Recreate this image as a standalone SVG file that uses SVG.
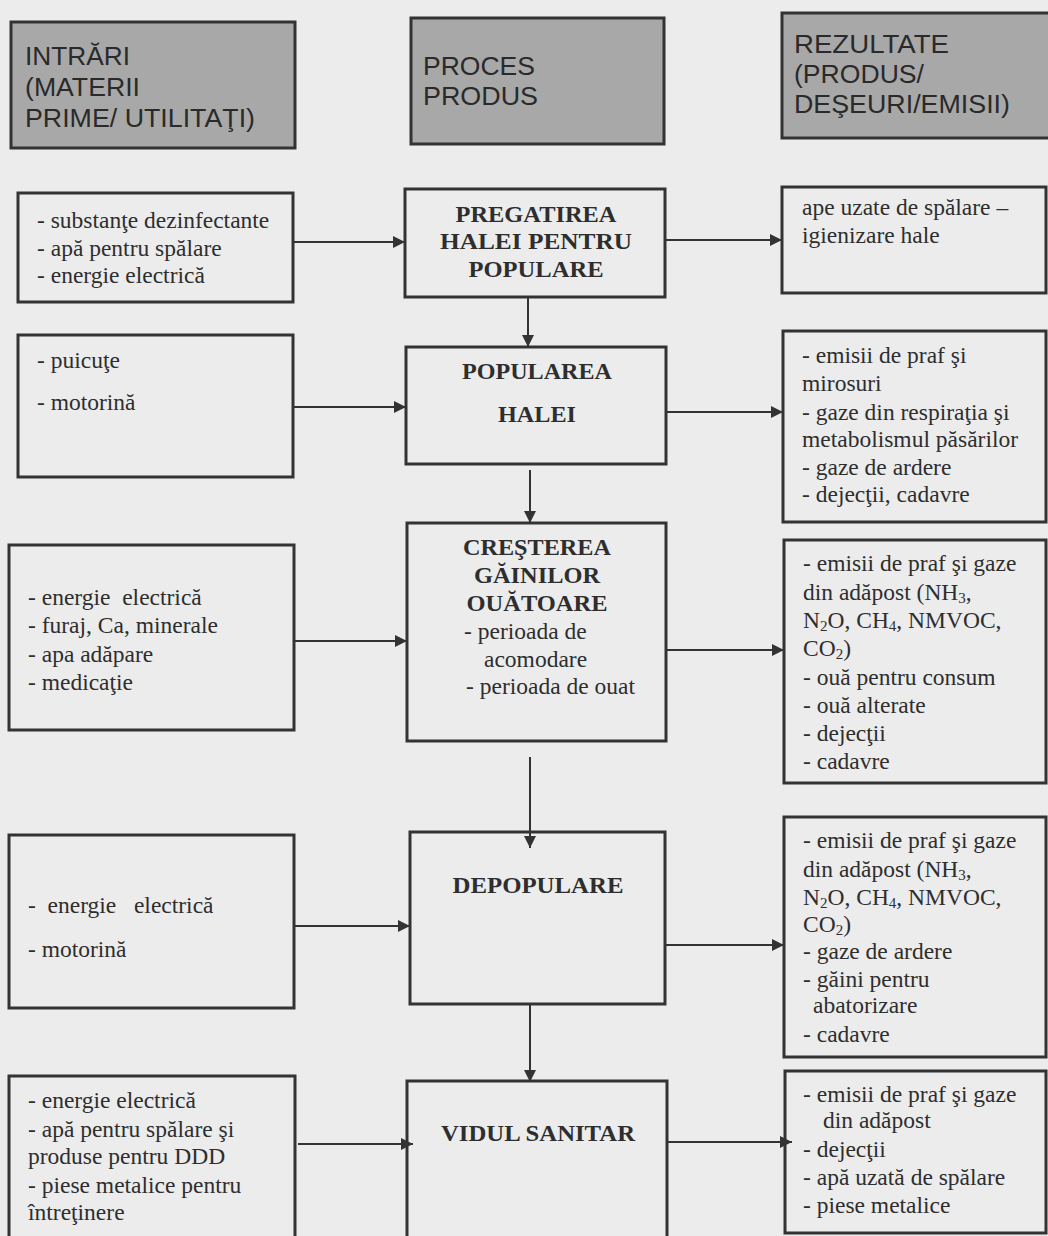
<svg xmlns="http://www.w3.org/2000/svg" width="1048" height="1236" viewBox="0 0 1048 1236">
<defs>
<style>
.hdr{fill:#a8a8a8;stroke:#333;stroke-width:3}
.box{fill:none;stroke:#333;stroke-width:3}
.ht{font-family:"Liberation Sans",Arial,sans-serif;font-size:26px;fill:#2a2a2a}
.t{font-family:"Liberation Serif","Times New Roman",serif;font-size:23.5px;fill:#2e2e2e}
.b{font-family:"Liberation Serif","Times New Roman",serif;font-size:23px;font-weight:bold;fill:#2e2e2e;text-anchor:middle}
.c{fill:none;stroke:#333;stroke-width:2;marker-end:url(#ah)}
</style>
<marker id="ah" viewBox="0 0 10 10" refX="10" refY="5" markerWidth="14" markerHeight="12" markerUnits="userSpaceOnUse" orient="auto">
<path d="M0,0 L10,5 L0,10 z" fill="#333"/>
</marker>
</defs>
<rect width="1048" height="1236" fill="#ececec"/>

<g id="hdr-intrari">
<rect class="hdr" x="11" y="22" width="284" height="126"/>
<text class="ht" x="25" y="65" textLength="105" lengthAdjust="spacingAndGlyphs">INTRĂRI</text>
<text class="ht" x="25" y="96" textLength="115" lengthAdjust="spacingAndGlyphs">(MATERII</text>
<text class="ht" x="25" y="127" textLength="230" lengthAdjust="spacingAndGlyphs">PRIME/ UTILITAŢI)</text>
</g>
<g id="hdr-proces">
<rect class="hdr" x="411" y="18" width="253" height="126"/>
<text class="ht" x="423" y="75" textLength="112" lengthAdjust="spacingAndGlyphs">PROCES</text>
<text class="ht" x="423" y="105" textLength="115" lengthAdjust="spacingAndGlyphs">PRODUS</text>
</g>
<g id="hdr-rezultate">
<rect class="hdr" x="782" y="13" width="280" height="125"/>
<text class="ht" x="794" y="53" textLength="155" lengthAdjust="spacingAndGlyphs">REZULTATE</text>
<text class="ht" x="794" y="83" textLength="130" lengthAdjust="spacingAndGlyphs">(PRODUS/</text>
<text class="ht" x="794" y="113" textLength="216" lengthAdjust="spacingAndGlyphs">DEŞEURI/EMISII)</text>
</g>

<g id="in1">
<rect class="box" x="18" y="193" width="275" height="109"/>
<text class="t" x="37" y="228">- substanţe dezinfectante</text>
<text class="t" x="37" y="256">- apă pentru spălare</text>
<text class="t" x="37" y="283">- energie electrică</text>
</g>
<g id="in2">
<rect class="box" x="18" y="335" width="275" height="142"/>
<text class="t" x="37" y="368">- puicuţe</text>
<text class="t" x="37" y="410">- motorină</text>
</g>
<g id="in3">
<rect class="box" x="9" y="545" width="285" height="185"/>
<text class="t" x="28" y="605" xml:space="preserve">- energie  electrică</text>
<text class="t" x="28" y="633">- furaj, Ca, minerale</text>
<text class="t" x="28" y="662">- apa adăpare</text>
<text class="t" x="28" y="690">- medicaţie</text>
</g>
<g id="in4">
<rect class="box" x="9" y="835" width="285" height="173"/>
<text class="t" x="28" y="913" xml:space="preserve">-  energie   electrică</text>
<text class="t" x="28" y="957">- motorină</text>
</g>
<g id="in5">
<rect class="box" x="9" y="1076" width="286" height="180"/>
<text class="t" x="28" y="1108">- energie electrică</text>
<text class="t" x="28" y="1137">- apă pentru spălare şi</text>
<text class="t" x="28" y="1164">produse pentru DDD</text>
<text class="t" x="28" y="1193">- piese metalice pentru</text>
<text class="t" x="28" y="1220">întreţinere</text>
</g>

<g id="p1">
<rect class="box" x="405" y="189" width="260" height="108"/>
<text class="b" x="536" y="222" textLength="161" lengthAdjust="spacingAndGlyphs">PREGATIREA</text>
<text class="b" x="536" y="249" textLength="192" lengthAdjust="spacingAndGlyphs">HALEI PENTRU</text>
<text class="b" x="536" y="277" textLength="135" lengthAdjust="spacingAndGlyphs">POPULARE</text>
</g>
<g id="p2">
<rect class="box" x="406" y="347" width="260" height="117"/>
<text class="b" x="537" y="379" textLength="150" lengthAdjust="spacingAndGlyphs">POPULAREA</text>
<text class="b" x="537" y="422" textLength="78" lengthAdjust="spacingAndGlyphs">HALEI</text>
</g>
<g id="p3">
<rect class="box" x="407" y="523" width="259" height="218"/>
<text class="b" x="537" y="555" textLength="148" lengthAdjust="spacingAndGlyphs">CREŞTEREA</text>
<text class="b" x="537" y="583" textLength="126" lengthAdjust="spacingAndGlyphs">GĂINILOR</text>
<text class="b" x="537" y="611" textLength="141" lengthAdjust="spacingAndGlyphs">OUĂTOARE</text>
<text class="t" x="464" y="639">- perioada de</text>
<text class="t" x="484" y="667">acomodare</text>
<text class="t" x="466" y="694">- perioada de ouat</text>
</g>
<g id="p4">
<rect class="box" x="410" y="832" width="255" height="172"/>
<text class="b" x="538" y="893" textLength="171" lengthAdjust="spacingAndGlyphs">DEPOPULARE</text>
</g>
<g id="p5">
<rect class="box" x="407" y="1081" width="260" height="180"/>
<text class="b" x="538" y="1141" textLength="194" lengthAdjust="spacingAndGlyphs">VIDUL SANITAR</text>
</g>

<g id="out1">
<rect class="box" x="782" y="187" width="264" height="106"/>
<text class="t" x="802" y="215">ape uzate de spălare –</text>
<text class="t" x="802" y="243">igienizare hale</text>
</g>
<g id="out2">
<rect class="box" x="783" y="331" width="263" height="191"/>
<text class="t" x="802" y="363">- emisii de praf şi</text>
<text class="t" x="802" y="391">mirosuri</text>
<text class="t" x="802" y="420">- gaze din respiraţia şi</text>
<text class="t" x="802" y="447">metabolismul păsărilor</text>
<text class="t" x="802" y="475">- gaze de ardere</text>
<text class="t" x="802" y="502">- dejecţii, cadavre</text>
</g>
<g id="out3">
<rect class="box" x="784" y="540" width="262" height="243"/>
<text class="t" x="803" y="571">- emisii de praf şi gaze</text>
<text class="t" x="803" y="600">din adăpost (NH<tspan font-size="15" dy="3">3</tspan><tspan dy="-3">,</tspan></text>
<text class="t" x="803" y="628">N<tspan font-size="15" dy="3">2</tspan><tspan dy="-3">O, CH</tspan><tspan font-size="15" dy="3">4</tspan><tspan dy="-3">, NMVOC,</tspan></text>
<text class="t" x="803" y="656">CO<tspan font-size="15" dy="3">2</tspan><tspan dy="-3">)</tspan></text>
<text class="t" x="803" y="685">- ouă pentru consum</text>
<text class="t" x="803" y="713">- ouă alterate</text>
<text class="t" x="803" y="741">- dejecţii</text>
<text class="t" x="803" y="769">- cadavre</text>
</g>
<g id="out4">
<rect class="box" x="784" y="817" width="262" height="240"/>
<text class="t" x="803" y="848">- emisii de praf şi gaze</text>
<text class="t" x="803" y="877">din adăpost (NH<tspan font-size="15" dy="3">3</tspan><tspan dy="-3">,</tspan></text>
<text class="t" x="803" y="905">N<tspan font-size="15" dy="3">2</tspan><tspan dy="-3">O, CH</tspan><tspan font-size="15" dy="3">4</tspan><tspan dy="-3">, NMVOC,</tspan></text>
<text class="t" x="803" y="932">CO<tspan font-size="15" dy="3">2</tspan><tspan dy="-3">)</tspan></text>
<text class="t" x="803" y="959">- gaze de ardere</text>
<text class="t" x="803" y="987">- găini pentru</text>
<text class="t" x="813" y="1013">abatorizare</text>
<text class="t" x="803" y="1042">- cadavre</text>
</g>
<g id="out5">
<rect class="box" x="785" y="1071" width="261" height="162"/>
<text class="t" x="803" y="1102">- emisii de praf şi gaze</text>
<text class="t" x="823" y="1128">din adăpost</text>
<text class="t" x="803" y="1157">- dejecţii</text>
<text class="t" x="803" y="1185">- apă uzată de spălare</text>
<text class="t" x="803" y="1213">- piese metalice</text>
</g>

<g id="connectors">
<path class="c" d="M293,242 H405"/>
<path class="c" d="M665,240 H782"/>
<path class="c" d="M528,297 V347"/>
<path class="c" d="M293,407 H406"/>
<path class="c" d="M666,412 H783"/>
<path class="c" d="M530,470 V523"/>
<path class="c" d="M294,641 H407"/>
<path class="c" d="M666,650 H784"/>
<path class="c" d="M530,757 V848"/>
<path class="c" d="M294,926 H410"/>
<path class="c" d="M665,945 H784"/>
<path class="c" d="M530,1004 V1082"/>
<path class="c" d="M298,1144 H413"/>
<path class="c" d="M667,1142 H792"/>
</g>
</svg>
